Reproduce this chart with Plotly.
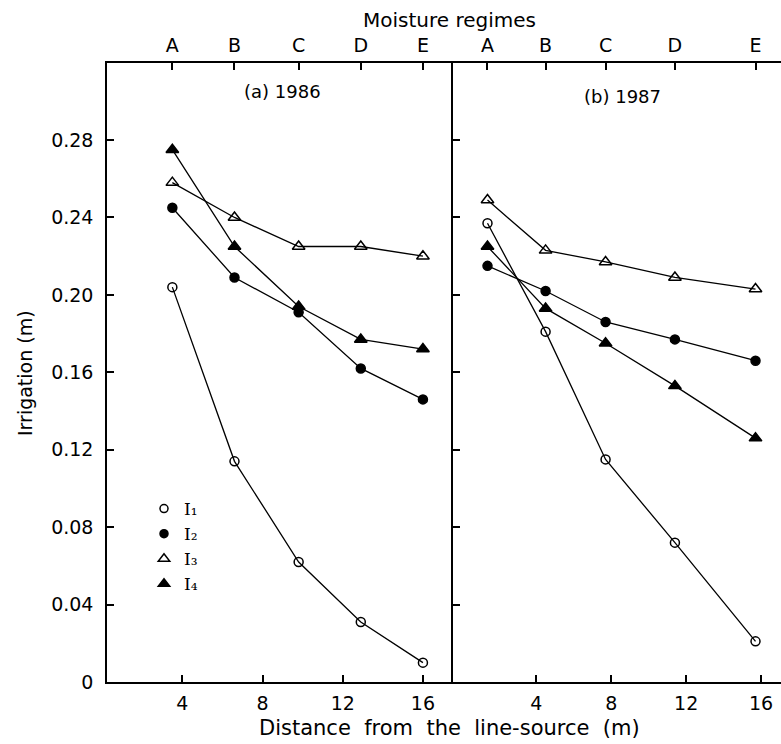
import plotly.graph_objects as go

# ---- data ----
regimes = ["A", "B", "C", "D", "E"]
dist_1986 = [3.5, 6.6, 9.8, 12.9, 16.0]
dist_1987 = [1.4, 4.5, 7.7, 11.4, 15.7]

i1_1986 = [0.204, 0.114, 0.062, 0.031, 0.010]
i2_1986 = [0.245, 0.209, 0.191, 0.162, 0.146]
i3_1986 = [0.258, 0.240, 0.225, 0.225, 0.220]
i4_1986 = [0.275, 0.225, 0.194, 0.177, 0.172]

i1_1987 = [0.237, 0.181, 0.115, 0.072, 0.021]
i2_1987 = [0.215, 0.202, 0.186, 0.177, 0.166]
i3_1987 = [0.249, 0.223, 0.217, 0.209, 0.203]
i4_1987 = [0.225, 0.193, 0.175, 0.153, 0.126]

series_names = ["I\u2081", "I\u2082", "I\u2083", "I\u2084"]
y_ticks = [0, 0.04, 0.08, 0.12, 0.16, 0.20, 0.24, 0.28]
y_ticktext = ["0", "0.04", "0.08", "0.12", "0.16", "0.20", "0.24", "0.28"]
x_ticks = [4, 8, 12, 16]

styles = [
    dict(symbol="circle-open", size=9),
    dict(symbol="circle", size=9),
    dict(symbol="triangle-up-open", size=11),
    dict(symbol="triangle-up", size=11),
]

FONT = "DejaVu Sans"
fig = go.Figure()

for vals, xs, xa, ya in [
    ([i1_1986, i2_1986, i3_1986, i4_1986], dist_1986, "x", "y"),
    ([i1_1987, i2_1987, i3_1987, i4_1987], dist_1987, "x2", "y2"),
]:
    for v, st in zip(vals, styles):
        fig.add_trace(go.Scatter(
            x=xs, y=v, xaxis=xa, yaxis=ya, mode="lines+markers",
            line=dict(color="black", width=1.3),
            marker=dict(symbol=st["symbol"], size=st["size"], color="black",
                        line=dict(color="black", width=1.5)),
            showlegend=False, hoverinfo="skip"))

# invisible traces so the top (moisture regime) axes are drawn
fig.add_trace(go.Scatter(x=dist_1986, y=i3_1986, xaxis="x3", yaxis="y",
                         mode="markers", marker=dict(opacity=0),
                         showlegend=False, hoverinfo="skip"))
fig.add_trace(go.Scatter(x=dist_1987, y=i3_1987, xaxis="x4", yaxis="y2",
                         mode="markers", marker=dict(opacity=0),
                         showlegend=False, hoverinfo="skip"))

# legend-only traces
for name, st in zip(series_names, styles):
    fig.add_trace(go.Scatter(
        x=[None], y=[None], xaxis="x", yaxis="y", mode="markers", name=name,
        marker=dict(symbol=st["symbol"], size=st["size"] - 1, color="black",
                    line=dict(color="black", width=1.5)),
        showlegend=True))

d = (453 - 107) / 674
yr = [0, 0.3198]
common_x = dict(showline=True, linecolor="black", linewidth=1.5, ticks="inside",
                ticklen=7, tickwidth=1.5, tickcolor="black", showgrid=False,
                zeroline=False, tickfont=dict(family=FONT, size=19, color="black"))

fig.update_layout(
    width=781, height=744,
    margin=dict(l=107, r=0, t=63, b=62),
    paper_bgcolor="white", plot_bgcolor="white",
    font=dict(family=FONT, color="black"),
    xaxis=dict(domain=[0, d], range=[0.24, 17.5], tickvals=x_ticks,
               anchor="y", ticklabelstandoff=3, **common_x),
    xaxis2=dict(domain=[d, 1], range=[-0.44, 17.06], tickvals=x_ticks,
                anchor="y2", ticklabelstandoff=3, **common_x),
    xaxis3=dict(overlaying="x", side="top", range=[0.24, 17.5], anchor="y",
                tickvals=dist_1986, ticktext=regimes, ticklabelstandoff=2,
                **common_x),
    xaxis4=dict(overlaying="x2", side="top", range=[-0.44, 17.06], anchor="y2",
                tickvals=dist_1987, ticktext=regimes, ticklabelstandoff=2,
                **common_x),
    yaxis=dict(domain=[0, 1], range=yr, tickvals=y_ticks, ticktext=y_ticktext,
               anchor="x", showline=True, linecolor="black", linewidth=1.5,
               ticks="inside", ticklen=7, tickwidth=1.5, tickcolor="black",
               showgrid=False, zeroline=False, ticklabelstandoff=8,
               tickfont=dict(family=FONT, size=19, color="black")),
    yaxis2=dict(domain=[0, 1], range=yr, tickvals=y_ticks, showticklabels=False,
                anchor="x2", showline=True, linecolor="black", linewidth=1.5,
                ticks="inside", ticklen=7, tickwidth=1.5, tickcolor="black",
                showgrid=False, zeroline=False),
    legend=dict(x=(144 - 107) / 674, xanchor="left", y=(682 - 491) / 619,
                yanchor="top", bgcolor="rgba(0,0,0,0)",
                font=dict(family="DejaVu Serif", size=17, color="black"),
                itemwidth=30, tracegroupgap=0),
    showlegend=True,
)

annos = [
    dict(text="Moisture regimes", x=449, y=744 - 20, size=20),
    dict(text="(a) 1986", x=282, y=744 - 91, size=18),
    dict(text="(b) 1987", x=622, y=744 - 96, size=18),
    dict(text="Distance  from  the  line-source  (m)", x=449, y=744 - 728, size=21),
]
for a in annos:
    fig.add_annotation(text=a["text"], xref="paper", yref="paper",
                       x=(a["x"] - 107) / 674, y=(a["y"] - 62) / 619,
                       xanchor="center", yanchor="middle", showarrow=False,
                       font=dict(family=FONT, size=a["size"], color="black"))

fig.add_annotation(text="Irrigation (m)", xref="paper", yref="paper",
                   x=(25 - 107) / 674, y=(744 - 373 - 62) / 619, textangle=-90,
                   xanchor="center", yanchor="middle", showarrow=False,
                   font=dict(family=FONT, size=19, color="black"))

fig.write_html("out.html", config={"displayModeBar": False},
               post_script="document.body.style.margin='0';"
                           "document.body.style.overflow='hidden';")
